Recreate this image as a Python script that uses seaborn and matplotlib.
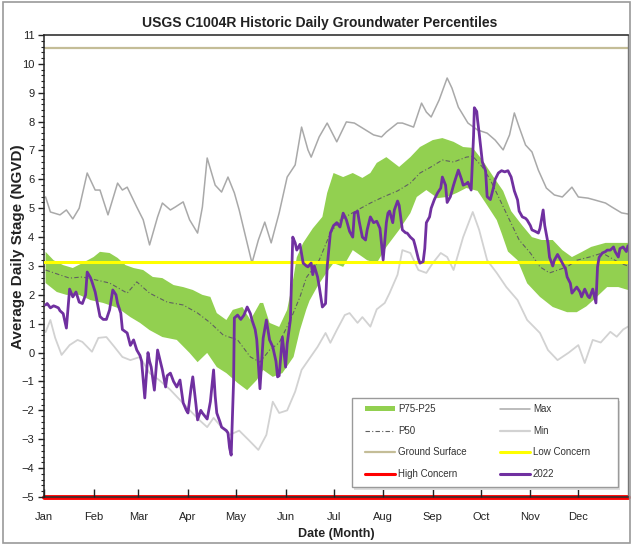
import numpy as np
import matplotlib
matplotlib.use("Agg")
import matplotlib.pyplot as plt
from matplotlib.lines import Line2D
from matplotlib.patches import Patch, Rectangle
from matplotlib.ticker import MultipleLocator
import seaborn as sns

# ---------------- data ----------------
month_labels = ["Jan", "Feb", "Mar", "Apr", "May", "Jun", "Jul", "Aug", "Sep", "Oct", "Nov", "Dec"]
month_starts = [0, 31, 59, 90, 120, 151, 181, 212, 243, 273, 304, 334]

ground_surface = 10.55
low_concern = 3.15
high_concern = -5.0

max_days = [1, 4, 10, 14, 18, 22, 27, 32, 35, 40, 46, 49, 52, 58, 62, 66, 71, 74, 79, 82, 87, 91, 96, 99,
            102, 107, 111, 115, 119, 122, 130, 134, 138, 142, 147, 152, 157, 161, 165, 167, 172, 177, 183,
            189, 194, 199, 206, 211, 214, 221, 224, 231, 236, 239, 242, 247, 252, 255, 259, 265, 271, 277,
            282, 287, 291, 294, 297, 301, 305, 309, 314, 319, 324, 330, 334, 340, 344, 351, 355, 361, 365]
max_vals = [5.39, 4.87, 4.77, 4.94, 4.63, 5.0, 6.22, 5.63, 5.63, 4.77, 5.87, 5.63, 5.73, 5.04, 4.6, 3.73,
            4.7, 5.18, 4.94, 5.04, 5.22, 4.6, 4.14, 5.04, 6.74, 5.8, 5.56, 6.08, 5.53, 4.94, 3.1, 3.9, 4.52,
            3.8, 4.84, 6.08, 6.5, 7.81, 7.02, 6.77, 7.47, 7.95, 7.3, 7.99, 7.95, 7.78, 7.54, 7.47, 7.64,
            7.95, 7.95, 7.81, 8.64, 8.33, 8.16, 8.75, 9.51, 9.16, 8.5, 7.95, 7.71, 7.6, 7.36, 7.02, 7.54,
            8.3, 7.81, 7.19, 6.95, 6.32, 5.7, 5.46, 5.39, 5.73, 5.39, 5.35, 5.29, 5.18, 5.04, 4.84, 4.8]

min_days = [1, 4, 7, 11, 16, 21, 24, 30, 34, 39, 44, 49, 54, 60, 66, 72, 79, 85, 91, 97, 102, 106, 111,
            116, 122, 128, 134, 139, 143, 147, 152, 157, 161, 166, 171, 176, 179, 183, 188, 191, 196, 199,
            204, 208, 213, 216, 221, 224, 229, 234, 239, 243, 248, 252, 256, 262, 268, 272, 277, 283, 289,
            296, 302, 310, 315, 321, 328, 334, 338, 343, 348, 354, 358, 362, 365]
min_vals = [0.71, 1.13, 0.51, -0.08, 0.26, 0.44, 0.37, 0.03, 0.51, 0.54, 0.2, -0.15, -0.26, -0.15, -0.71,
            -0.95, -1.29, -1.64, -1.99, -2.33, -2.58, -2.26, -2.58, -2.85, -2.7, -3.03, -3.37, -2.85, -1.7,
            -2.09, -2.0, -1.35, -0.6, -0.2, 0.2, 0.68, 0.34, 0.78, 1.3, 1.37, 1.03, 1.23, 0.9, 1.5, 1.72,
            2.06, 2.7, 3.55, 3.45, 2.86, 2.76, 3.1, 3.45, 3.31, 2.86, 4.0, 4.87, 4.25, 3.2, 2.76, 2.27, 1.82,
            1.13, 0.68, 0.09, -0.26, 0.0, 0.26, -0.36, 0.44, 0.35, 0.72, 0.55, 0.8, 0.9]

p75_days = [1, 6, 12, 18, 24, 31, 35, 41, 46, 51, 56, 62, 68, 74, 81, 87, 93, 99, 104, 108, 114, 118, 124,
            129, 135, 137, 141, 147, 152, 156, 158, 162, 168, 174, 177, 181, 187, 193, 199, 204, 208, 214,
            222, 229, 235, 243, 249, 256, 262, 268, 274, 281, 287, 292, 299, 305, 311, 318, 324, 330, 336,
            342, 351, 359, 365]
p75_vals = [3.49, 3.2, 3.03, 2.93, 3.1, 3.31, 3.49, 3.45, 3.28, 3.03, 2.93, 2.86, 2.62, 2.58, 2.34, 2.27,
            2.17, 2.0, 1.93, 1.37, 1.13, 1.48, 1.58, 1.13, 1.72, 1.72, 1.03, 0.89, 1.48, 2.62, 3.3, 3.8, 4.3,
            4.7, 5.53, 6.22, 6.08, 6.22, 6.05, 6.22, 6.57, 6.77, 6.43, 6.77, 7.12, 7.36, 7.43, 7.3, 7.12,
            7.09, 6.67, 6.08, 5.6, 4.9, 4.4, 4.0, 3.9, 3.9, 3.55, 3.31, 3.48, 3.66, 3.8, 3.8, 3.8]

p25_days = [1, 8, 14, 22, 29, 37, 46, 54, 60, 66, 74, 83, 91, 96, 102, 108, 114, 121, 127, 133, 137, 143,
            149, 156, 160, 164, 166, 171, 177, 181, 187, 193, 202, 208, 214, 222, 229, 233, 239, 246, 252,
            258, 264, 271, 277, 283, 286, 290, 296, 302, 310, 318, 327, 333, 339, 344, 352, 359, 365]
p25_vals = [2.41, 2.1, 2.0, 2.0, 1.82, 1.72, 1.55, 1.23, 1.03, 0.78, 0.54, 0.44, -0.01, -0.33, -0.01, -0.5,
            -0.71, -1.05, -1.3, -0.95, -0.6, -0.84, -0.71, -0.15, 0.78, 1.5, 1.8, 2.3, 2.8, 3.1, 2.97, 3.55,
            3.2, 3.1, 3.66, 4.25, 4.83, 5.39, 5.63, 5.35, 5.39, 5.53, 5.7, 5.6, 5.1, 4.59, 4.14, 3.5, 3.2,
            2.4, 1.93, 1.58, 1.4, 1.4, 1.6, 1.85, 2.27, 2.27, 2.17]

p50_days = [1, 10, 16, 24, 33, 41, 52, 58, 66, 77, 87, 96, 104, 112, 121, 129, 135, 141, 147, 154, 160,
            164, 172, 179, 185, 196, 204, 212, 221, 229, 235, 241, 249, 256, 264, 268, 274, 279, 285, 291,
            297, 304, 310, 316, 327, 333, 341, 349, 360, 365]
p50_vals = [2.86, 2.69, 2.58, 2.62, 2.51, 2.41, 2.06, 2.45, 2.06, 1.75, 1.65, 1.37, 1.03, 0.61, 0.44, -0.15,
            -0.33, 0.09, 0.34, 1.13, 1.93, 2.6, 3.2, 4.14, 4.59, 4.94, 5.18, 5.39, 5.6, 5.87, 6.22, 6.4,
            6.67, 6.6, 6.77, 6.8, 6.43, 5.98, 5.29, 4.59, 3.9, 3.45, 2.97, 2.76, 2.97, 3.2, 3.31, 3.45, 3.1,
            3.0]

y2022_days = [1, 2, 4, 6, 7, 9, 10, 12, 14, 16, 18, 20, 22, 24, 26, 27, 29, 30, 32, 33, 35, 37, 39, 41, 43,
              45, 46, 48, 49, 52, 54, 56, 58, 60, 61, 63, 65, 66, 67, 69, 71, 74, 76, 77, 79, 81, 83, 85,
              87, 89, 90, 92, 93, 95, 96, 98, 99, 102, 104, 106, 107, 108, 110, 111, 114, 115, 116, 117,
              118.5, 119, 121, 123, 125, 127, 129, 130, 132, 133, 135, 137, 139, 141, 143, 145, 146, 147,
              149, 151, 152, 154, 155, 155.5, 157, 158, 160, 162, 164, 165, 167, 168, 169, 171, 172, 174,
              176, 177, 179, 181, 183, 185, 187, 189, 190, 191, 193, 194, 196, 197, 199, 201, 202, 204, 206,
              208, 210, 212, 214, 215, 216, 218, 219, 221, 222, 224, 226, 227, 229, 231, 232, 234, 235, 237,
              238, 239, 241, 242, 244, 246, 248, 249, 251, 252, 254, 256, 257, 259, 261, 262, 264, 265, 267,
              268.5, 269, 270.5, 271, 272, 274, 276, 277, 279, 281, 282, 284, 286, 288, 290, 292, 294, 296,
              297, 299, 301, 302, 304, 305, 307, 309, 310, 312, 313, 315, 316, 318, 319, 321, 324, 326, 327,
              329, 330, 332, 333, 335, 336, 338, 340, 341, 343, 345, 346, 347, 349, 351, 352, 354, 356, 357,
              359, 360, 362, 364, 365]
y2022_vals = [1.65, 1.7, 1.55, 1.62, 1.6, 1.55, 1.45, 1.35, 0.85, 2.2, 1.93, 2.1, 1.75, 1.7, 2.0, 2.79, 2.6,
              2.45, 2.1, 1.82, 1.25, 1.15, 1.15, 1.48, 2.17, 2.0, 1.7, 1.37, 0.8, 0.68, 0.25, 0.44, 0.09,
              -0.1, -0.3, -1.57, 0.0, -0.3, -0.5, -1.3, 0.09, -0.6, -1.19, -0.8, -0.71, -1.0, -1.19, -0.95,
              -1.74, -2.0, -2.09, -1.2, -0.84, -1.8, -2.33, -2.0, -2.09, -2.3, -1.7, -0.6, -1.5, -2.09, -2.4,
              -2.58, -2.7, -2.78, -3.3, -3.55, -1.0, 1.2, 1.3, 1.15, 1.3, 1.58, 1.35, 1.13, 0.8, 0.44, -1.25,
              0.5, 1.13, 0.44, 0.2, -0.3, -0.84, -0.8, 0.54, -0.5, 0.3, 1.13, 3.0, 4.0, 3.8, 3.55, 3.75, 3.1,
              3.0, 2.97, 3.1, 2.7, 3.0, 2.62, 2.3, 1.58, 1.7, 2.97, 4.14, 4.4, 4.5, 4.35, 4.83, 4.6, 4.4,
              4.2, 4.0, 4.83, 4.9, 4.55, 4.0, 3.9, 4.25, 4.7, 4.5, 4.55, 4.3, 3.21, 4.5, 4.83, 4.9, 4.5, 4.94,
              5.25, 5.1, 4.25, 4.15, 4.14, 4.0, 3.9, 3.7, 3.25, 3.1, 3.15, 3.6, 4.5, 4.7, 5.0, 5.3, 5.53, 5.7,
              6.08, 5.8, 5.2, 5.4, 5.8, 5.98, 6.32, 6.0, 5.8, 5.85, 5.9, 5.63, 7.5, 8.48, 8.35, 8.06, 7.6,
              6.6, 6.3, 5.4, 5.3, 5.73, 6.0, 6.22, 6.3, 6.26, 6.3, 6.08, 5.6, 5.29, 4.9, 4.7, 4.65, 4.59,
              4.4, 4.25, 4.2, 4.14, 4.3, 4.94, 4.4, 3.8, 3.3, 3.0, 3.2, 3.4, 3.1, 2.9, 2.62, 2.4, 2.06, 2.2,
              2.27, 2.1, 1.93, 2.2, 1.95, 1.9, 2.2, 1.72, 2.97, 3.3, 3.45, 3.5, 3.55, 3.55, 3.66, 3.5, 3.31,
              3.6, 3.66, 3.5, 3.7]

# ---------------- style ----------------
sns.set_style("ticks")
plt.rcParams["font.family"] = ["Liberation Sans", "DejaVu Sans"]

GREEN = "#92D050"
PURPLE = "#7030A0"
YELLOW = "#FFFF00"
RED = "#FF0000"
TAN = "#C4BD97"
MAXC = "#A9A9A9"
MINC = "#D2D2D2"
P50C = "#606060"
TXT = "#222222"

fig = plt.figure(figsize=(6.33, 5.44), dpi=100)
ax = fig.add_axes([0.0695, 0.0864, 0.9225, 0.8493])

# band P75-P25 as polygon
band_x = np.concatenate([p75_days, p25_days[::-1]])
band_y = np.concatenate([p75_vals, p25_vals[::-1]])
ax.fill(band_x, band_y, color=GREEN, lw=0, zorder=1)

sns.lineplot(x=max_days, y=max_vals, ax=ax, color=MAXC, lw=1.1, sort=False, estimator=None, zorder=2)
sns.lineplot(x=min_days, y=min_vals, ax=ax, color=MINC, lw=1.3, sort=False, estimator=None, zorder=2)
sns.lineplot(x=p50_days, y=p50_vals, ax=ax, color=P50C, lw=0.8, sort=False, estimator=None, zorder=2)
ax.lines[-1].set_dashes([4, 2, 1, 2])
ax.axhline(ground_surface, color=TAN, lw=1.6, zorder=2)
ax.axhline(low_concern, color=YELLOW, lw=2.2, zorder=3)
sns.lineplot(x=y2022_days, y=y2022_vals, ax=ax, color=PURPLE, lw=2.0, sort=False, estimator=None, zorder=4)
ax.axhline(high_concern, color=RED, lw=3.5, zorder=2.4, clip_on=False)

ax.set_xlim(0, 365)
ax.set_ylim(-5, 11)
ax.set_xticks(month_starts)
ax.set_xticklabels(month_labels)
ax.set_yticks(np.arange(-5, 12, 1))
ax.yaxis.set_minor_locator(MultipleLocator(0.2))
ax.tick_params(axis="y", which="major", direction="out", length=4, width=1, labelsize=8, colors=TXT, pad=3)
ax.tick_params(axis="y", which="minor", direction="out", length=2, width=0.8, colors=TXT)
ax.tick_params(axis="x", which="major", direction="in", length=6, width=1, labelsize=8, colors=TXT, pad=11)
ax.set_axisbelow(False)
for s in ["left", "bottom", "top"]:
    ax.spines[s].set_color("#333333")
    ax.spines[s].set_linewidth(1.2)
ax.spines["right"].set_color("#777777")
ax.spines["right"].set_linewidth(1.0)

ax.set_xlabel("Date (Month)", fontsize=9, fontweight="bold", labelpad=4, color=TXT)
ax.set_ylabel("Average Daily Stage (NGVD)", fontsize=11, fontweight="bold", color=TXT)
ax.yaxis.set_label_coords(-0.0325, 0.541)
ax.set_title("USGS C1004R Historic Daily Groundwater Percentiles", fontsize=10, fontweight="bold", pad=5.5,
             color=TXT, x=0.4726)

# legend frame (drawn separately to control its size)
shadow = Rectangle((0.531, 0.015), 0.456, 0.192, transform=ax.transAxes, facecolor="#dddddd",
                   edgecolor="none", zorder=9)
frame = Rectangle((0.527, 0.022), 0.456, 0.192, transform=ax.transAxes, facecolor="white",
                  edgecolor="#9a9a9a", lw=1.0, zorder=9.5)
ax.add_patch(shadow)
ax.add_patch(frame)

handles = [
    Patch(facecolor=GREEN, edgecolor="none"),
    Line2D([], [], color=P50C, lw=0.8, dashes=[4, 2, 1, 2]),
    Line2D([], [], color=TAN, lw=1.6),
    Line2D([], [], color=RED, lw=2.2),
    Line2D([], [], color=MAXC, lw=1.1),
    Line2D([], [], color=MINC, lw=1.6),
    Line2D([], [], color=YELLOW, lw=2.2),
    Line2D([], [], color=PURPLE, lw=2.2),
]
labels = ["P75-P25", "P50", "Ground Surface", "High Concern", "Max", "Min", "Low Concern", "2022"]
leg = ax.legend(handles, labels, ncol=2, loc="upper left", bbox_to_anchor=(0.5497, 0.2013),
                fontsize=7, frameon=False, handlelength=3.1, handleheight=0.5, borderaxespad=0,
                borderpad=0, labelspacing=1.2, handletextpad=0.3, columnspacing=3.4)
for t in leg.get_texts():
    t.set_color("#333333")
leg.set_zorder(10)

fig.patches.append(Rectangle((0.004, 0.002), 0.992, 0.994, transform=fig.transFigure, fill=False,
                             edgecolor="#9a9a9a", lw=1.2))

fig.savefig("out.png", dpi=100)
